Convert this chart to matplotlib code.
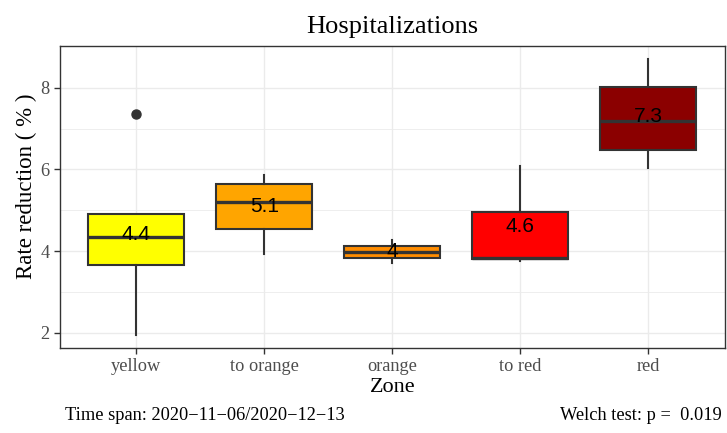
import numpy as np
import matplotlib.pyplot as plt

zones = ['yellow', 'to orange', 'orange', 'to red', 'red']
fills = ['#FFFF00', '#FFA500', '#FF8C00', '#FF0000', '#8B0000']

# box statistics per zone (rate reduction, %)
q1 = [3.66, 4.54, 3.84, 3.80, 6.48]
med = [4.34, 5.20, 3.98, 3.83, 7.19]
q3 = [4.91, 5.65, 4.12, 4.96, 8.03]
whislo = [1.94, 3.94, 3.70, 3.76, 6.03]
whishi = [4.91, 5.86, 4.27, 6.08, 8.70]
fliers = [[7.36], [], [], [], []]
means = [4.4, 5.1, 4.0, 4.6, 7.3]

ink = '#333333'
serif = ['Liberation Serif', 'DejaVu Serif']

fig = plt.figure(figsize=(7.27, 4.33), dpi=100)
ax = fig.add_axes([59.5 / 727, 1 - 348.3 / 433, (725 - 59.5) / 727, (348.3 - 45.7) / 433])

stats = []
for i in range(len(zones)):
    stats.append(dict(q1=q1[i], med=med[i], q3=q3[i], whislo=whislo[i],
                      whishi=whishi[i], fliers=fliers[i], label=zones[i]))

pos = np.arange(1, len(zones) + 1)
bp = ax.bxp(stats, positions=pos, widths=0.75, patch_artist=True,
            showcaps=False,
            boxprops=dict(edgecolor=ink, linewidth=1.5),
            whiskerprops=dict(color=ink, linewidth=1.5),
            medianprops=dict(color=ink, linewidth=2.4, solid_capstyle='butt'),
            flierprops=dict(marker='o', markerfacecolor=ink, markeredgecolor=ink,
                            markersize=6.5))
for patch, c in zip(bp['boxes'], fills):
    patch.set_facecolor(c)
    patch.set_zorder(3)
for k in ('whiskers', 'medians', 'fliers'):
    for art in bp[k]:
        art.set_zorder(3)

for x, m in zip(pos, means):
    ax.text(x, m, '%g' % m, ha='center', va='center', fontsize=15,
            family=['Liberation Sans', 'DejaVu Sans'], color='black', zorder=5)

ax.set_xlim(0.4, 5.6)
ax.set_ylim(1.62, 9.03)
ax.set_yticks([2, 4, 6, 8])
ax.set_yticks([3, 5, 7], minor=True)
ax.set_xticks(pos)
ax.set_xticklabels(zones)
ax.grid(True, which='major', color='#EBEBEB', linewidth=1.0, zorder=0)
ax.grid(True, which='minor', axis='y', color='#EBEBEB', linewidth=0.6, zorder=0)
ax.set_axisbelow(True)
ax.tick_params(which='major', length=4, width=1.0, color=ink, labelcolor='#4D4D4D',
               labelsize=13.2, pad=3)
ax.tick_params(which='minor', length=0)
for lab in ax.get_xticklabels() + ax.get_yticklabels():
    lab.set_family(serif)
for s in ax.spines.values():
    s.set_color(ink)
    s.set_linewidth(1.0)

ax.set_xlabel('Zone', family=serif, fontsize=16, labelpad=2)
ax.set_ylabel('Rate reduction ( % )', family=serif, fontsize=16.5)
ax.yaxis.label.set_va('center')
ax.yaxis.set_label_coords(-0.049, 0.536)
ax.set_title('Hospitalizations', family=serif, fontsize=19, pad=9)

fig.text(65 / 727, 1 - 416 / 433, 'Time span: 2020\u221211\u221206/2020\u221212\u221213',
         family=serif, fontsize=13.2, ha='left', va='center')
fig.text(722 / 727, 1 - 416 / 433, 'Welch test: p =  0.019',
         family=serif, fontsize=13.2, ha='right', va='center')

fig.savefig('out.png', dpi=100)
